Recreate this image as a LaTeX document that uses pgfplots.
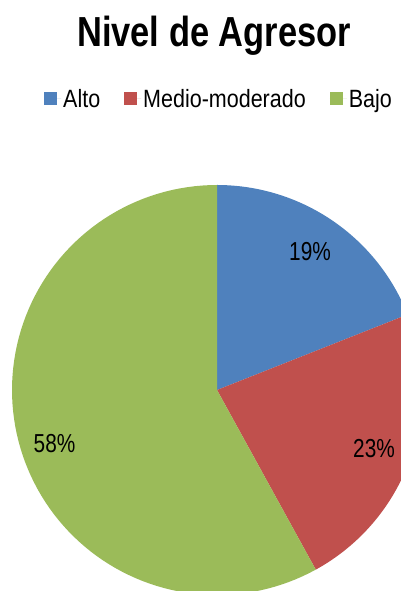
\documentclass[border=0pt]{standalone}
\usepackage{pgfplots}
\usepackage{pgfplotstable}
\pgfplotsset{compat=1.18}
\usepackage{fontspec}
\setmainfont{Liberation Sans}
\newfontfamily\titlefont[FakeStretch=0.82]{Liberation Sans}
\newfontfamily\legfont[FakeStretch=0.86]{Liberation Sans}
\newfontfamily\labfont[FakeStretch=0.8]{Liberation Sans}
\definecolor{alto}{HTML}{4F81BD}
\definecolor{medio}{HTML}{C0504D}
\definecolor{bajo}{HTML}{9BBB59}
\pgfplotstableread{
cat value
Alto 19
Medio-moderado 23
Bajo 58
}\piedata
\pgfplotstablegetelem{0}{value}\of\piedata \let\va\pgfplotsretval
\pgfplotstablegetelem{1}{value}\of\piedata \let\vb\pgfplotsretval
\pgfplotstablegetelem{2}{value}\of\piedata \let\vc\pgfplotsretval
\pgfmathsetmacro{\ca}{0}
\pgfmathsetmacro{\cb}{\va}
\pgfmathsetmacro{\cc}{\va+\vb}
\def\cx{217}\def\cy{201}\def\rr{205}
\begin{document}
\begin{tikzpicture}
\begin{axis}[
  scale only axis, width=401pt, height=591pt,
  xmin=0, xmax=401, ymin=0, ymax=591,
  hide axis, clip=true,
  samples at={-1,0,1,...,100},
  legend columns=-1,
  legend image code/.code={\fill[#1] (0pt,-6.5pt) rectangle (13pt,6.5pt); \path (0pt,0pt) -- (17pt,0pt);},
  legend style={at={(axis cs:44,492)}, anchor=west, draw=none, fill=none,
    inner sep=0pt, font=\legfont\fontsize{25}{29}\selectfont,
    cells={anchor=west},
    /tikz/every even column/.append style={column sep=22pt}},
]
\addplot[fill=alto, draw=none]
  ({\cx+(x<0?0:\rr)*cos(90-3.6*(\ca+\va*max(x,0)/100))},
   {\cy+(x<0?0:\rr)*sin(90-3.6*(\ca+\va*max(x,0)/100))});
\addlegendentry{Alto}
\addplot[fill=medio, draw=none]
  ({\cx+(x<0?0:\rr)*cos(90-3.6*(\cb+\vb*max(x,0)/100))},
   {\cy+(x<0?0:\rr)*sin(90-3.6*(\cb+\vb*max(x,0)/100))});
\addlegendentry{Medio-moderado}
\addplot[fill=bajo, draw=none]
  ({\cx+(x<0?0:\rr)*cos(90-3.6*(\cc+\vc*max(x,0)/100))},
   {\cy+(x<0?0:\rr)*sin(90-3.6*(\cc+\vc*max(x,0)/100))});
\addlegendentry{Bajo}
\node[anchor=base, font=\titlefont\bfseries\fontsize{42}{50}\selectfont] at (axis cs:214,544) {Nivel de Agresor};
\node[anchor=base, font=\labfont\fontsize{26}{30}\selectfont] at (axis cs:310,330.3) {19\%};
\node[anchor=base, font=\labfont\fontsize{26}{30}\selectfont] at (axis cs:374,133) {23\%};
\node[anchor=base, font=\labfont\fontsize{26}{30}\selectfont] at (axis cs:54.5,138) {58\%};
\end{axis}
\pgfresetboundingbox
\path (current axis.south west) rectangle (current axis.north east);
\end{tikzpicture}
\end{document}
